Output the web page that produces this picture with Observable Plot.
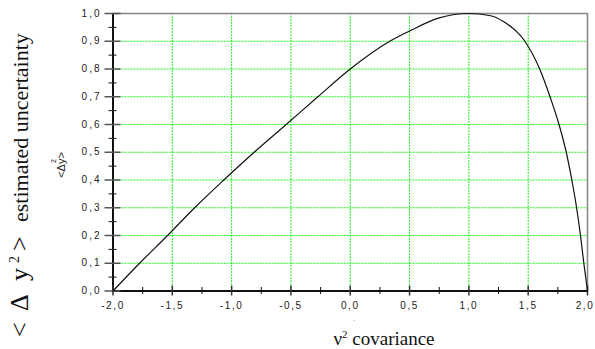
<!DOCTYPE html>
<html>
<head>
<meta charset="utf-8">
<script src="https://cdn.jsdelivr.net/npm/d3@7"></script>
<script src="https://cdn.jsdelivr.net/npm/@observablehq/plot@0.6"></script>
<style>
  body { margin: 0; background: #fff; }
  svg { display: block; }
  [aria-label="x-axis tick label"] text { letter-spacing: 1.6px; }
  [aria-label="y-axis tick label"] text { letter-spacing: 2px; }
</style>
</head>
<body>
<div id="chart"></div>
<script>
// Curve
const curveX = [-2.0, -1.776, -1.54, -1.312, -1.066, -0.81, -0.54, -0.273, 0.0, 0.333, 0.5, 0.75, 1.0, 1.183, 1.295, 1.472, 1.597, 1.684, 1.76, 1.821, 1.868, 1.908, 1.941, 1.969, 2.0];
const curveY = [0.0, 0.1, 0.2, 0.3, 0.4, 0.5, 0.6, 0.7, 0.8, 0.9, 0.937, 0.984, 1.0, 0.992, 0.97, 0.9, 0.8, 0.7, 0.6, 0.5, 0.4, 0.3, 0.2, 0.1, 0.0];

// Axis ticks
const xMajor = [-2, -1.5, -1, -0.5, 0, 0.5, 1, 1.5, 2];
const xMinor = [-1.75, -1.25, -0.75, -0.25, 0.25, 0.75, 1.25, 1.75];
const yMajor = [0, 0.1, 0.2, 0.3, 0.4, 0.5, 0.6, 0.7, 0.8, 0.9, 1.0];
const yMinor = [0.05, 0.15, 0.25, 0.35, 0.45, 0.55, 0.65, 0.75, 0.85, 0.95];
const xGrid = [-1.5, -1, -0.5, 0, 0.5, 1, 1.5];
const yGrid = [0.1, 0.2, 0.3, 0.4, 0.5, 0.6, 0.7, 0.8, 0.9];

const yTitle = "estimated uncertainty";
const xTitle = "covariance";

const data = curveX.map((x, i) => ({x, y: curveY[i]}));
const fmt = d => d.toFixed(1).replace(".", ",");
const grid = "#22f022";

const plot = Plot.plot({
  width: 595,
  height: 349,
  marginLeft: 112.5,
  marginRight: 8,
  marginTop: 13,
  marginBottom: 58.5,
  x: {domain: [-2, 2]},
  y: {domain: [0, 1]},
  style: {fontFamily: "'Liberation Sans', Arial, sans-serif", color: "#222"},
  marks: [
    Plot.ruleX(xGrid, {stroke: grid, strokeWidth: 1, strokeDasharray: "2,1"}),
    Plot.ruleY(yGrid, {stroke: grid, strokeWidth: 1, strokeDasharray: "2,1"}),
    Plot.frame({stroke: "#8a8a8a", strokeWidth: 1.6}),
    Plot.ruleX([-2], {stroke: "#111", strokeWidth: 2}),
    Plot.ruleY([0], {stroke: "#111", strokeWidth: 2}),
    // x ticks crossing the axis
    Plot.ruleX(xMajor, {y1: 0, y2: 0, insetTop: -5, insetBottom: -5, stroke: "#333", strokeWidth: 1.5}),
    Plot.ruleX(xMinor, {y1: 0, y2: 0, insetTop: -3.5, insetBottom: -3.5, stroke: "#111", strokeWidth: 1}),
    // y ticks crossing the axis
    Plot.ruleY(yMajor, {x1: -2, x2: -2, insetLeft: -8, insetRight: -8, stroke: "#555", strokeWidth: 1.5}),
    Plot.ruleY(yMinor, {x1: -2, x2: -2, insetLeft: -4, insetRight: -4, stroke: "#111", strokeWidth: 1}),
    Plot.axisX({ticks: xMajor, tickSize: 0, tickPadding: 11, tickFormat: fmt, fontSize: 10, label: null}),
    Plot.axisY({ticks: yMajor, tickSize: 0, tickPadding: 11.5, tickFormat: fmt, fontSize: 10, label: null}),
    Plot.line(data, {x: "x", y: "y", curve: "monotone-x", stroke: "#111", strokeWidth: 1.2})
  ]
});

const svg = d3.select(plot);
// keep the last x tick label inside the picture
svg.selectAll('[aria-label="x-axis tick label"] text')
  .filter(function(d, i, n) { return i === n.length - 1; })
  .attr("dx", -2.5);

// Y title (serif, rotated): text x = -screenY
const serif = "'Liberation Serif', 'Times New Roman', serif";
const yt = svg.append("text")
  .attr("transform", "translate(28,0) rotate(-90)")
  .attr("text-anchor", "start")
  .attr("font-family", serif)
  .attr("font-size", 22)
  .attr("fill", "#111");
yt.append("tspan").attr("x", -337).attr("font-size", 26).text("<");
yt.append("tspan").attr("x", -311).attr("font-size", 26).text("Δ");
yt.append("tspan").attr("x", -281).attr("font-size", 26).text("y");
yt.append("tspan").attr("x", -263).attr("dy", -9).attr("font-size", 14).text("2");
yt.append("tspan").attr("x", -251).attr("dy", 9).attr("font-size", 26).text(">");
yt.append("tspan").attr("x", -222).text(yTitle);

// small rotated <Δy²> label
svg.append("text")
  .attr("transform", "translate(65,165) rotate(-90)")
  .attr("text-anchor", "middle")
  .attr("font-family", "'Liberation Sans', Arial, sans-serif")
  .attr("font-size", 11)
  .attr("fill", "#222")
  .text("<Δy>");
svg.append("text")
  .attr("transform", "translate(56,161) rotate(-90)")
  .attr("text-anchor", "middle")
  .attr("font-family", "'Liberation Sans', Arial, sans-serif")
  .attr("font-size", 7)
  .attr("fill", "#222")
  .text("2");

// X title
const xt = svg.append("text")
  .attr("x", 384).attr("y", 345)
  .attr("text-anchor", "middle")
  .attr("font-family", serif)
  .attr("font-size", 19)
  .attr("fill", "#111");
xt.append("tspan").text("ν");
xt.append("tspan").attr("dy", -7).attr("font-size", 11).text("2");
xt.append("tspan").attr("dy", 7).text(" " + xTitle);
svg.append("text")
  .attr("x", 354).attr("y", 322)
  .attr("text-anchor", "middle")
  .attr("font-family", "'Liberation Sans', Arial, sans-serif")
  .attr("font-size", 6)
  .attr("fill", "#777")
  .text("-");

document.getElementById("chart").appendChild(plot);
</script>
</body>
</html>
